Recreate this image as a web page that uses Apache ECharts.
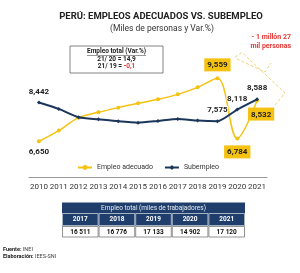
<!DOCTYPE html>
<html><head><meta charset="utf-8">
<script src="https://cdn.jsdelivr.net/npm/echarts@6/dist/echarts.min.js"></script>
<style>html,body{margin:0;padding:0;background:#fff}#c{width:300px;height:273px}</style>
</head><body><div id="c"></div>
<script>
const years = ['2010','2011','2012','2013','2014','2015','2016','2017','2018','2019','2020','2021'];
const adecuado = [6650,7144,7744,7989,8206,8404,8589,8820,9143,9559,6784,8532];
const subempleo = [8442,8146,7758,7666,7573,7513,7592,7684,7606,7575,8118,8588];
const labeled = [0,9,10,11];
const tableYears = ['2017','2018','2019','2020','2021'];
const tableValues = ['16 511','16 776','17 133','14 902','17 120'];

const YEL = '#F5C211', NAVY = '#1B365A', TNAVY = '#1F3E6C', FONT = 'Roboto';

function fmt(v){ return v.toLocaleString('en-US'); }

const adData = adecuado.map((v,i)=>{
  const o = {value:v};
  if (labeled.includes(i)) {
    const pos = (i===0) ? 'bottom' : (i===9 ? 'top' : 'bottom');
    o.label = {show:true, position:pos, distance:5,
      offset: i===11 ? [4,0] : [0,0],
      backgroundColor: i===0 ? 'transparent' : YEL,
      padding: i===0 ? 0 : [3,3,2,3],
      color:'#222', fontWeight:'bold', fontSize:8, fontFamily:FONT,
      formatter: p=>fmt(p.value)};
  }
  return o;
});
const subData = subempleo.map((v,i)=>{
  const o = {value:v};
  if (labeled.includes(i)) {
    o.label = {show:true, position:'top', distance:5,
      color:'#222', fontWeight:'bold', fontSize:8, fontFamily:FONT,
      textBorderColor:'#fff', textBorderWidth:2,
      formatter: p=>fmt(p.value)};
  }
  return o;
});

// table graphics
const tx0 = 62, tcw = 36.6, tw = tcw*tableYears.length;
const tg = [];
tg.push({type:'rect', shape:{x:tx0,y:202.5,width:tw,height:23.5}, style:{fill:TNAVY}});
tg.push({type:'text', style:{text:'Empleo total (miles de trabajadores)', x:tx0+tw/2, y:208, align:'center', verticalAlign:'middle', fill:'#e8eef7', fontSize:6.5, fontFamily:FONT}});
tableYears.forEach((y,i)=>{
  const cx = tx0 + tcw*i;
  tg.push({type:'rect', shape:{x:cx+0.5,y:213.5,width:tcw-1,height:12}, style:{fill:TNAVY, stroke:'#fff', lineWidth:0.6}});
  tg.push({type:'text', style:{text:y, x:cx+tcw/2, y:219.5, align:'center', verticalAlign:'middle', fill:'#fff', fontSize:6.5, fontWeight:'bold', fontFamily:FONT}});
  tg.push({type:'rect', shape:{x:cx+0.5,y:226.5,width:tcw-1,height:10.5}, style:{fill:'#fff', stroke:'#666', lineWidth:0.7}});
  tg.push({type:'text', style:{text:tableValues[i], x:cx+tcw/2, y:232, align:'center', verticalAlign:'middle', fill:'#111', fontSize:6.5, fontWeight:'bold', fontFamily:FONT}});
});

const chart = echarts.init(document.getElementById('c'), null, {renderer:'canvas'});
chart.setOption({
  animation:false,
  textStyle:{fontFamily:FONT},
  title:[
    {text:'PERÚ: EMPLEOS ADECUADOS VS. SUBEMPLEO', left:156, textAlign:'center', top:7,
     textStyle:{fontSize:9.5, fontWeight:'bold', color:'#222', fontFamily:FONT}},
    {text:'(Miles de personas y Var.%)', left:157, textAlign:'center', top:19,
     textStyle:{fontSize:8.5, fontWeight:'normal', color:'#333', fontFamily:FONT}}
  ],
  grid:{left:29, right:33, top:58, bottom:96},
  xAxis:{type:'category', data:years, boundaryGap:true,
    axisLine:{lineStyle:{color:'#999', width:1}}, axisTick:{show:false},
    axisLabel:{color:'#333', fontSize:8, margin:6, fontFamily:FONT, interval:0}},
  yAxis:{type:'value', min:5000, max:10500, show:false, splitLine:{show:false}},
  legend:{left:72, top:159, itemWidth:14, itemHeight:6, itemGap:11,
    textStyle:{fontSize:7, color:'#333', fontFamily:FONT},
    data:['Empleo adecuado','Subempleo']},
  series:[
    {name:'Empleo adecuado', type:'line', data:adData, smooth:0.35,
     color:YEL, lineStyle:{width:1.5, color:YEL},
     symbol:'circle', symbolSize:4, itemStyle:{color:YEL}, z:2},
    {name:'Subempleo', type:'line', data:subData, smooth:0.2,
     color:NAVY, lineStyle:{width:2, color:NAVY},
     symbol:'diamond', symbolSize:4, itemStyle:{color:NAVY}, z:3}
  ],
  graphic:[
    {type:'rect', shape:{x:70,y:46,width:93,height:27}, style:{fill:'#fff', stroke:'#666', lineWidth:0.8}, z:10},
    {type:'text', style:{text:'Empleo total (Var.%)', x:116.5, y:51.5, align:'center', verticalAlign:'middle', fill:'#222', fontSize:6.5, fontWeight:'bold', fontFamily:FONT}, z:11},
    {type:'line', shape:{x1:87,y1:55.5,x2:146,y2:55.5}, style:{stroke:'#333', lineWidth:0.5}, z:11},
    {type:'text', style:{text:'21/ 20 = 14,9', x:116.5, y:59.5, align:'center', verticalAlign:'middle', fill:'#222', fontSize:6.5, fontWeight:'bold', fontFamily:FONT}, z:11},
    {type:'text', style:{text:'{a|21/ 19 = }{b|-0,1}', x:116.5, y:66.5, align:'center', verticalAlign:'middle', fontFamily:FONT,
      rich:{a:{fill:'#222', fontSize:6.5, fontWeight:'bold', fontFamily:FONT}, b:{fill:'#e53935', fontSize:6.5, fontWeight:'bold', fontFamily:FONT}}}, z:11},
    {type:'text', style:{text:'- 1 millón 27\nmil personas', x:291, y:33, align:'right', verticalAlign:'top', fill:'#e53935', fontSize:7, fontWeight:'bold', lineHeight:8.5, fontFamily:FONT}},
    {type:'polyline', shape:{points:[[235,57],[242,52.5],[285,93],[275,105]]}, style:{fill:null, stroke:'#ecd47a', lineWidth:1, lineDash:[3,2]}},
    {type:'polyline', shape:{points:[[237,59],[265,72],[271,63]]}, style:{fill:null, stroke:'#ecd47a', lineWidth:1, lineDash:[3,2]}},
    ...tg,
    {type:'text', style:{text:'{b|Fuente:} INEI', x:3, y:250, verticalAlign:'middle', fontFamily:FONT,
      rich:{b:{fontWeight:'bold', fontSize:5.5, fill:'#222', fontFamily:FONT}}, fontSize:5.5, fill:'#444'}},
    {type:'text', style:{text:'{b|Elaboración:} IEES-SNI', x:3, y:256.5, verticalAlign:'middle', fontFamily:FONT,
      rich:{b:{fontWeight:'bold', fontSize:5.5, fill:'#222', fontFamily:FONT}}, fontSize:5.5, fill:'#444'}}
  ]
});
</script></body></html>
